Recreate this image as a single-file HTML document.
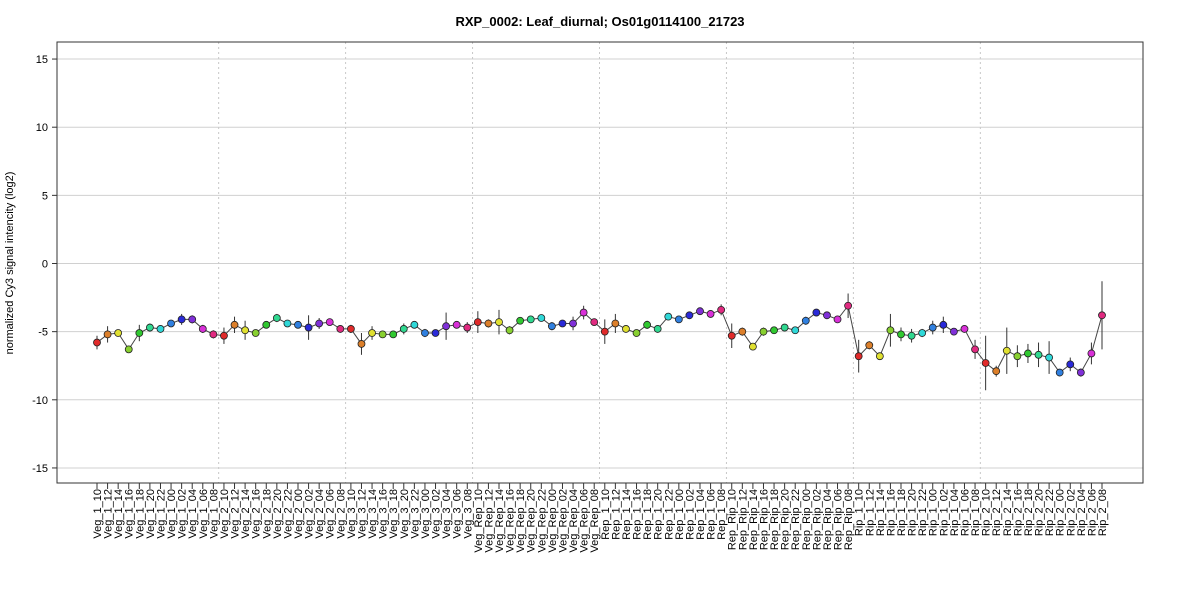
<!DOCTYPE html>
<html><head><meta charset="utf-8"><style>
body{margin:0;background:#fff;}
svg{display:block;font-family:"Liberation Sans",Arial,sans-serif;}
</style></head><body>
<svg id="chart" width="1200" height="600">
<text x="600" y="26" text-anchor="middle" font-size="13" font-weight="bold">RXP_0002: Leaf_diurnal; Os01g0114100_21723</text>
<text transform="translate(13,263) rotate(-90)" text-anchor="middle" font-size="11">normalized Cy3 signal intencity (log2)</text>
<g id="grid"></g><g id="marks"></g><g id="axes"></g>
<rect x="57" y="42" width="1086" height="441" fill="none" stroke="#333"/>
</svg>
<script>
const groups = ["Veg_1","Veg_2","Veg_3","Veg_Rep","Rep_1","Rep_Rip","Rip_1","Rip_2"];
const hours = ["10","12","14","16","18","20","22","00","02","04","06","08"];
const values = [
-5.8,-5.2,-5.1,-6.3,-5.1,-4.7,-4.8,-4.4,-4.1,-4.1,-4.8,-5.2,
-5.3,-4.5,-4.9,-5.1,-4.5,-4.0,-4.4,-4.5,-4.7,-4.4,-4.3,-4.8,
-4.8,-5.9,-5.1,-5.2,-5.2,-4.8,-4.5,-5.1,-5.1,-4.6,-4.5,-4.7,
-4.3,-4.4,-4.3,-4.9,-4.2,-4.1,-4.0,-4.6,-4.4,-4.4,-3.6,-4.3,
-5.0,-4.4,-4.8,-5.1,-4.5,-4.8,-3.9,-4.1,-3.8,-3.5,-3.7,-3.4,
-5.3,-5.0,-6.1,-5.0,-4.9,-4.7,-4.9,-4.2,-3.6,-3.8,-4.1,-3.1,
-6.8,-6.0,-6.8,-4.9,-5.2,-5.3,-5.1,-4.7,-4.5,-5.0,-4.8,-6.3,
-7.3,-7.9,-6.4,-6.8,-6.6,-6.7,-6.9,-8.0,-7.4,-8.0,-6.6,-3.8];
const errors = [
0.5,0.6,0.2,0.2,0.6,0.3,0.2,0.2,0.4,0.3,0.3,0.3,
0.6,0.6,0.7,0.2,0.2,0.3,0.2,0.2,0.9,0.4,0.2,0.2,
0.3,0.8,0.5,0.2,0.2,0.4,0.2,0.3,0.2,1.0,0.2,0.4,
0.8,0.3,0.9,0.3,0.2,0.2,0.2,0.3,0.2,0.5,0.5,0.2,
0.9,0.7,0.2,0.2,0.3,0.2,0.2,0.2,0.2,0.2,0.2,0.4,
0.9,0.3,0.2,0.3,0.2,0.2,0.2,0.3,0.2,0.2,0.2,0.9,
1.2,0.3,0.2,1.2,0.5,0.5,0.3,0.5,0.6,0.2,0.2,0.7,
2.0,0.4,1.7,0.8,0.7,0.9,1.2,0.2,0.5,0.3,0.8,2.5];
const yTicks = [15,10,5,0,-5,-10,-15];
const colors = ["#e02a2a","#dc7f2a","#e0e030","#88d030","#30c830","#30d890","#30d8d8","#3080e0","#2a2ad8","#8030d8","#d830d8","#e02a80"];

const NS="http://www.w3.org/2000/svg";
const x0=57,x1=1143,yTop=42,yBot=483;
const n=values.length;
function xs(i){return 97+i*(1102-97)/(n-1);}
function ys(v){return 263.5-v*13.63;}
function mk(tag,attrs,parent){const e=document.createElementNS(NS,tag);for(const k in attrs)e.setAttribute(k,attrs[k]);parent.appendChild(e);return e;}
const grid=document.getElementById('grid'),marks=document.getElementById('marks'),axes=document.getElementById('axes');
yTicks.forEach(t=>{
  const y=ys(t);
  const g=mk('line',{x1:x0,x2:x1,y1:y,y2:y,stroke:'#d0d0d0','stroke-width':1},grid);
  
  
  mk('line',{x1:52,x2:x0,y1:y,y2:y,stroke:'#333'},axes);
  const tx=mk('text',{x:48,y:y+4,'text-anchor':'end','font-size':11},axes);
  tx.textContent=t;
  
  
});
for(let gi=1;gi<groups.length;gi++){
  const x=(xs(gi*12-1)+xs(gi*12))/2;
  const l=mk('line',{x1:x,x2:x,y1:yTop,y2:yBot,stroke:'#c8c8c8','stroke-dasharray':'2,3'},grid);
  
  
}
let pts=values.map((v,i)=>xs(i)+','+ys(v)).join(' ');
const pl=mk('polyline',{points:pts,fill:'none',stroke:'#444','stroke-width':1},marks);


values.forEach((v,i)=>{
  const x=xs(i);
  const eb=mk('line',{x1:x,x2:x,y1:ys(v+errors[i]),y2:ys(v-errors[i]),stroke:'#333','stroke-width':1},marks);
  
  
});
values.forEach((v,i)=>{
  const x=xs(i);
  const c=mk('circle',{cx:x,cy:ys(v),r:3.5,fill:colors[i%12],stroke:'#222','stroke-width':0.8},marks);
  
  
  mk('line',{x1:x,x2:x,y1:yBot,y2:yBot+6,stroke:'#333'},axes);
  const label=groups[Math.floor(i/12)]+'_'+hours[i%12];
  const t=mk('text',{transform:`translate(${x+4},489) rotate(-90)`,'text-anchor':'end','font-size':11},axes);
  t.textContent=label;
  
  
});
</script>
</body></html>
